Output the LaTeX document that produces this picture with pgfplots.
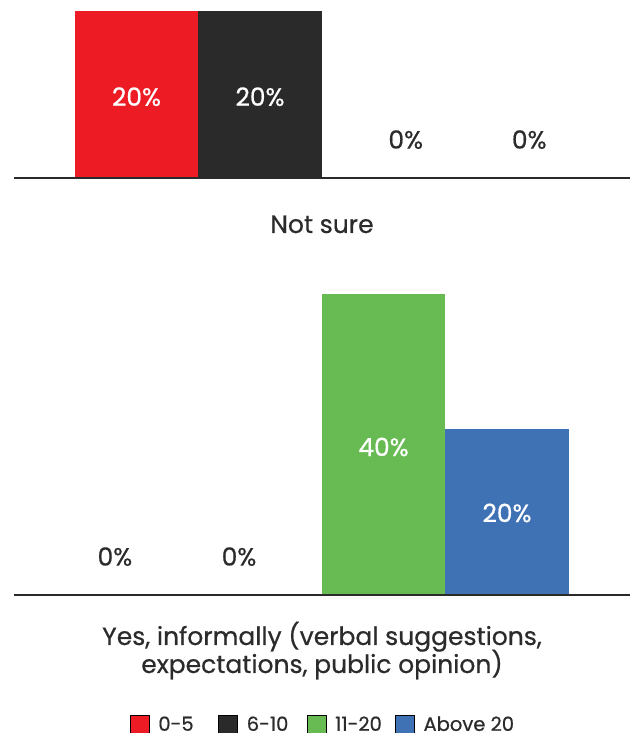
\documentclass[border=0pt]{standalone}
\usepackage{pgfplots}
\pgfplotsset{compat=1.18}
\usepackage{fontspec}
\setmainfont{Poppins}[FakeBold=0.6]
\definecolor{cred}{HTML}{ED1C24}
\definecolor{cdark}{HTML}{2A2A2A}
\definecolor{cgreen}{HTML}{67BB52}
\definecolor{cblue}{HTML}{3F72B5}
\definecolor{ctext}{HTML}{2B2B2B}
\pgfplotsset{
  panel/.style={
    scale only axis, x=123.5pt, y=7.525pt, xmin=-0.992, xmax=3.996, ymin=0,
    axis y line=none, axis x line*=bottom, xtick=\empty, ytick=\empty,
    x axis line style={-, line width=2pt, color=cdark},
    bar width=123.5pt, clip=false, axis on top,
  },
  bars/.style={ybar, bar shift=0pt, draw=none, forget plot},
  lbl/.style={forget plot, only marks, mark=*, mark size=0pt, mark options={draw=none,fill=none},
     nodes near coords, point meta=explicit symbolic,
     every node near coord/.append style={font=\fontsize{25}{29}\selectfont, text=#1, anchor=center, inner sep=0pt}},
  sqlegend/.style={legend image code/.code={\fill[##1] (0pt,-9.5pt) rectangle (19pt,9.5pt);}},
}
\begin{document}
\begin{tikzpicture}[x=1pt,y=1pt]
\useasboundingbox (0,0) rectangle (635,733);
% top panel: Not sure
\begin{axis}[panel, ymax=22.2, at={(14pt,555pt)}, anchor=south west]
\addplot[bars, fill=cred] coordinates {(0,22.2)};
\addplot[bars, fill=cdark] coordinates {(1,22.2)};
\addplot[bars, fill=cgreen] coordinates {(2,0)};
\addplot[bars, fill=cblue] coordinates {(3,0)};
\addplot[lbl=white] coordinates {(0,10.8)[20\%] (1,10.8)[20\%]};
\addplot[lbl=ctext] coordinates {(2.18,5.1)[0\%] (3.18,5.1)[0\%]};
\end{axis}
\node[anchor=base, font=\fontsize{25}{29}\selectfont, text=ctext] at (322,500) {Not sure};
% bottom panel: Yes, informally
\begin{axis}[panel, ymax=40, at={(14pt,138pt)}, anchor=south west,
  legend columns=4, legend cell align=left,
  legend style={draw=none, fill=none, inner sep=0pt, at={(axis description cs:0.5,-0.43)}, anchor=center,
    font=\fontsize{19.5}{23}\selectfont, text=ctext, nodes={inner sep=0pt},
    /tikz/every odd column/.append style={column sep=9pt},
    /tikz/every even column/.append style={column sep=0pt}},
]
\addplot[bars, fill=cred] coordinates {(0,0)};
\addplot[bars, fill=cdark] coordinates {(1,0)};
\addplot[bars, fill=cgreen] coordinates {(2,40)};
\addplot[bars, fill=cblue] coordinates {(3,22.06)};
\addplot[lbl=ctext] coordinates {(-0.175,5.1)[0\%] (0.83,5.1)[0\%]};
\addplot[lbl=white] coordinates {(2,19.67)[40\%] (3,10.9)[20\%]};
\addlegendimage{sqlegend, fill=cred}
\addlegendentry{\makebox[60pt][l]{0-5}}
\addlegendimage{sqlegend, fill=cdark}
\addlegendentry{\makebox[60pt][l]{6-10}}
\addlegendimage{sqlegend, fill=cgreen}
\addlegendentry{\makebox[60pt][l]{11-20}}
\addlegendimage{sqlegend, fill=cblue}
\addlegendentry{Above 20}
\end{axis}
\node[anchor=base, font=\fontsize{25}{29}\selectfont, text=ctext] at (322,88) {Yes, informally (verbal suggestions,};
\node[anchor=base, font=\fontsize{25}{29}\selectfont, text=ctext] at (322,60) {expectations, public opinion)};
\end{tikzpicture}
\end{document}
